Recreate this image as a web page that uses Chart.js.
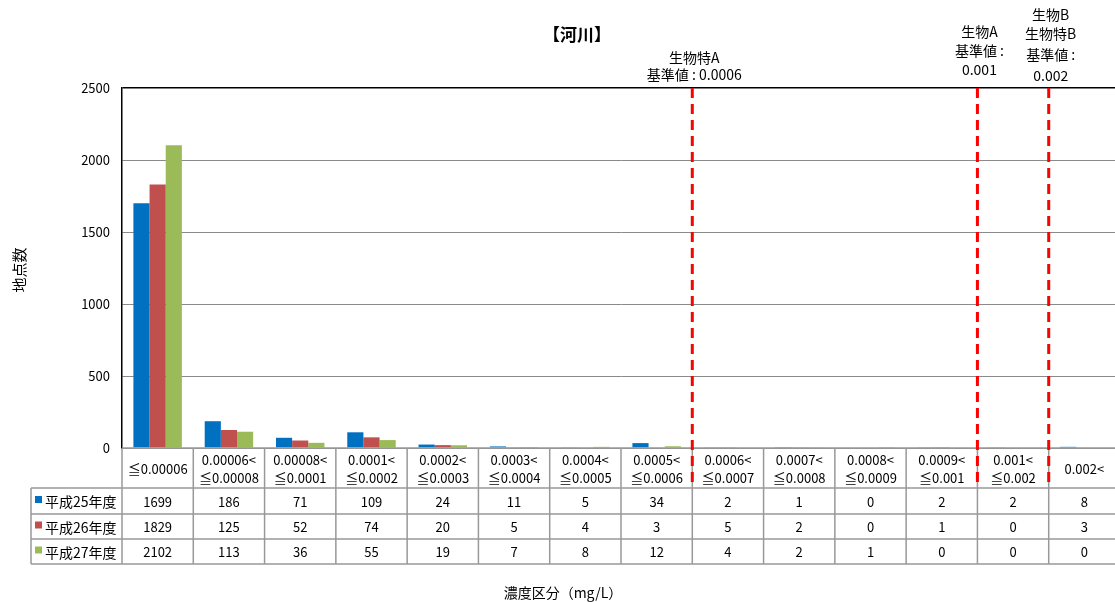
<!DOCTYPE html>
<html>
<head>
<meta charset="utf-8">
<script src="https://cdn.jsdelivr.net/npm/chart.js@4"></script>
<style>
  html, body { margin: 0; padding: 0; background: #fff; overflow: hidden; }
  #wrap { width: 1115px; height: 602px; overflow: hidden; }
</style>
</head>
<body>
<div id="wrap"><canvas id="myCanvas" width="1120" height="602"></canvas></div>
<script>
var categories = [
    ['', '≦0.00006'],
    ['0.00006<', '≦0.00008'],
    ['0.00008<', '≦0.0001'],
    ['0.0001<', '≦0.0002'],
    ['0.0002<', '≦0.0003'],
    ['0.0003<', '≦0.0004'],
    ['0.0004<', '≦0.0005'],
    ['0.0005<', '≦0.0006'],
    ['0.0006<', '≦0.0007'],
    ['0.0007<', '≦0.0008'],
    ['0.0008<', '≦0.0009'],
    ['0.0009<', '≦0.001'],
    ['0.001<', '≦0.002'],
    ['', '0.002<']
];
var seriesNames = ['平成25年度', '平成26年度', '平成27年度'];
var h25 = [1699, 186, 71, 109, 24, 11, 5, 34, 2, 1, 0, 2, 2, 8];
var h26 = [1829, 125, 52, 74, 20, 5, 4, 3, 5, 2, 0, 1, 0, 3];
var h27 = [2102, 113, 36, 55, 19, 7, 8, 12, 4, 2, 1, 0, 0, 0];
var yTicks = [0, 500, 1000, 1500, 2000, 2500];

// reference lines: drawn at the boundary after this category index
var refLines = [
    { after: 7, text: ['生物特A', '基準値 : 0.0006'], ys: [58, 75] },
    { after: 11, text: ['生物A', '基準値 :', '0.001'], ys: [32, 51, 70] },
    { after: 12, text: ['生物B', '生物特B', '基準値 :', '0.002'], ys: [15, 34, 55, 76] }
];

var colors = ['#0070C0', '#C0504D', '#9BBB59'];
var FONT = '"Noto Sans CJK JP", "Noto Sans", sans-serif';

var tablePlugin = {
    id: 'tablePlugin',
    afterDraw: function (chart) {
        var ctx = chart.ctx;
        var x = chart.scales.x;
        var area = chart.chartArea;
        var half = (x.getPixelForValue(1) - x.getPixelForValue(0)) / 2;
        var rows = [h25, h26, h27];
        var top = area.bottom;
        var rowY = [top, top + 40, top + 66, top + 91, top + 116];
        var labelLeft = 31;

        ctx.save();
        ctx.strokeStyle = '#999';
        ctx.lineWidth = 1.5;
        // horizontal lines
        ctx.beginPath();
        ctx.moveTo(area.left, rowY[0]);
        ctx.lineTo(area.right, rowY[0]);
        for (var r = 1; r < rowY.length; r++) {
            ctx.moveTo(labelLeft, rowY[r]);
            ctx.lineTo(area.right, rowY[r]);
        }
        // vertical lines
        ctx.moveTo(labelLeft, rowY[1]);
        ctx.lineTo(labelLeft, rowY[4]);
        for (var i = 0; i < categories.length; i++) {
            var lx = x.getPixelForValue(i) - half;
            ctx.moveTo(lx, rowY[0]);
            ctx.lineTo(lx, rowY[4]);
        }
        ctx.stroke();

        ctx.fillStyle = '#000';
        ctx.textAlign = 'center';
        ctx.textBaseline = 'middle';
        for (var c = 0; c < categories.length; c++) {
            var cx = x.getPixelForValue(c);
            var lab = categories[c];
            ctx.font = '13px ' + FONT;
            if (lab[0] === '') {
                ctx.fillText(lab[1], cx, (rowY[0] + rowY[1]) / 2 + 1);
            } else {
                ctx.fillText(lab[0], cx, rowY[0] + 12);
                ctx.fillText(lab[1], cx, rowY[0] + 30);
            }
            for (var s = 0; s < rows.length; s++) {
                ctx.fillText(String(rows[s][c]), cx, (rowY[s + 1] + rowY[s + 2]) / 2 + 1);
            }
        }

        // row labels with colour keys
        ctx.textAlign = 'left';
        ctx.font = '14px ' + FONT;
        for (var k = 0; k < seriesNames.length; k++) {
            var my = (rowY[k + 1] + rowY[k + 2]) / 2;
            ctx.fillStyle = colors[k];
            ctx.fillRect(35, my - 5, 7, 7);
            ctx.fillStyle = '#000';
            ctx.fillText(seriesNames[k], 45, my + 1);
        }

        // red dashed reference lines and their captions
        ctx.strokeStyle = '#FF0000';
        ctx.lineWidth = 3;
        ctx.setLineDash([10, 6]);
        ctx.font = '14px ' + FONT;
        ctx.textAlign = 'center';
        refLines.forEach(function (ref) {
            var px = x.getPixelForValue(ref.after) + half;
            ctx.beginPath();
            ctx.moveTo(px, area.top);
            ctx.lineTo(px, rowY[1]);
            ctx.stroke();
            ctx.fillStyle = '#000';
            ref.text.forEach(function (t, j) {
                ctx.fillText(t, px + 2, ref.ys[j]);
            });
        });
        ctx.setLineDash([]);

        // titles
        ctx.fillStyle = '#000';
        ctx.font = 'bold 17px ' + FONT;
        ctx.fillText('【河川】', 577, 35);
        ctx.font = '14px ' + FONT;
        ctx.fillText('濃度区分（mg/L）', 563, 593);
        ctx.font = '15px ' + FONT;
        ctx.translate(19, 270);
        ctx.rotate(-Math.PI / 2);
        ctx.fillText('地点数', 0, 0);
        ctx.restore();
    }
};

var ctx = document.getElementById('myCanvas').getContext('2d');
var myChart = new Chart(ctx, {
    type: 'bar',
    data: {
        labels: categories,
        datasets: [
            { label: seriesNames[0], data: h25, backgroundColor: colors[0] },
            { label: seriesNames[1], data: h26, backgroundColor: colors[1] },
            { label: seriesNames[2], data: h27, backgroundColor: colors[2] }
        ]
    },
    options: {
        responsive: false,
        animation: false,
        layout: { padding: { top: 88, bottom: 154, left: 0, right: 0 } },
        plugins: { legend: { display: false }, title: { display: false }, tooltip: { enabled: false } },
        datasets: { bar: { categoryPercentage: 0.68, barPercentage: 1.0 } },
        scales: {
            x: { display: false },
            y: {
                min: 0,
                max: 2500,
                afterFit: function (scale) { scale.width = 122; },
                afterBuildTicks: function (scale) {
                    scale.ticks = yTicks.map(function (v) { return { value: v }; });
                },
                border: { color: '#000', width: 1.5 },
                grid: {
                    drawTicks: false,
                    color: function (c) { return c.tick && c.tick.value === 2500 ? '#000' : '#8a8a8a'; },
                    lineWidth: function (c) { return c.tick && c.tick.value === 2500 ? 1.5 : 1; }
                },
                ticks: {
                    padding: 12,
                    color: '#000',
                    font: { size: 13, family: FONT },
                    callback: function (v) { return String(v); }
                }
            }
        }
    },
    plugins: [tablePlugin]
});
</script>
</body>
</html>
